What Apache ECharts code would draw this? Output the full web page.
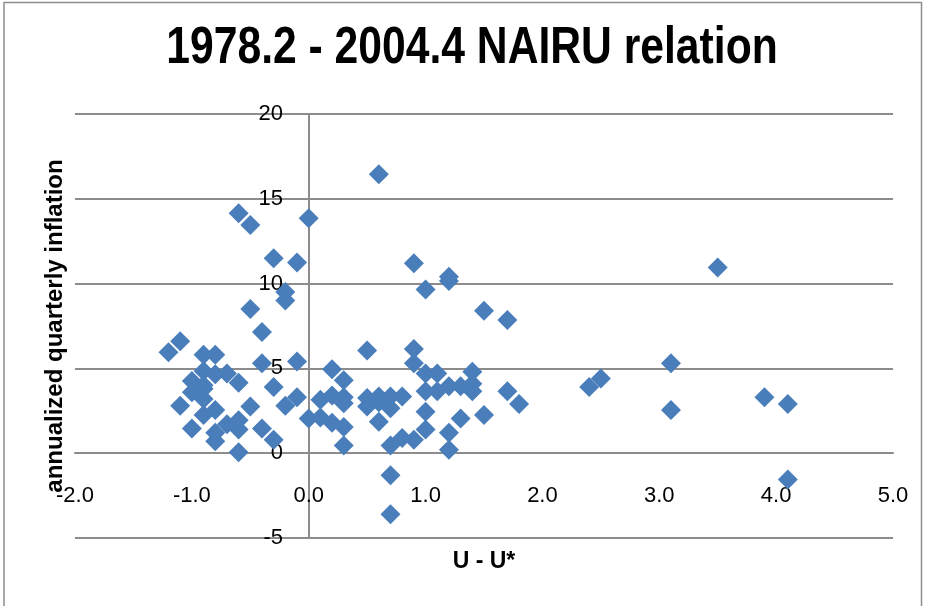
<!DOCTYPE html>
<html>
<head>
<meta charset="utf-8">
<script src="https://cdn.jsdelivr.net/npm/echarts@6/dist/echarts.min.js"></script>
<style>
html,body{margin:0;padding:0;background:#fff;}
#chart{width:927px;height:606px;}
</style>
</head>
<body>
<div id="chart"></div>
<script>
// Title and axis names
const chartTitle = "1978.2 - 2004.4 NAIRU relation";
const xName = "U - U*";
const yName = "annualized quarterly inflation";

// Axis ticks
const xTicks = [-2, -1, 0, 1, 2, 3, 4, 5];
const yTicks = [-5, 0, 5, 10, 15, 20];

// Unemployment gap (U - U*) for each quarter
const gap = [
  0.6, -0.6, -0.5, 0.0, -0.3, -0.1, -0.2, -0.2, -0.5, -0.4, 0.9, 1.2, 1.2, 1.0, 1.5, 1.7, 3.5, 3.1, 3.1, 3.9, 4.1, 4.1, 2.5, 2.4,
  -1.2, -1.1, -0.9, -0.8, -0.4, -0.1, -0.9, -0.8, -0.7, -0.6, -1.0, -0.9, -0.3, -0.1, -0.2, -1.0, -0.9, -1.1, -0.8, -0.9, -0.5, 0.0,
  -1.0, -0.8, -0.8, -0.7, -0.6, -0.6, -0.4, -0.3, -0.6, -0.9,
  0.5, 0.9, 0.9, 0.2, 0.3, 1.0, 1.1, 1.4, 1.2, 1.3, 1.4, 1.4, 1.0, 1.1, 1.7, 1.8, 1.5, 1.3, 1.2, 1.2, 1.0, 1.0, 0.9, 0.8,
  0.7, 0.7, 0.7, 0.6, 0.5, 0.5, 0.6, 0.7, 0.7, 0.8, 0.1, 0.2, 0.3, 0.3, 0.1, 0.2, 0.3, 0.3, 0.6
];

// Annualized quarterly inflation for each quarter
const inflation = [
  16.45, 14.15, 13.45, 13.85, 11.5, 11.25, 9.5, 9.0, 8.5, 7.15, 11.2, 10.4, 10.15, 9.65, 8.4, 7.85, 10.95, 5.3, 2.55, 3.3, 2.9, -1.55, 4.4, 3.9,
  5.95, 6.6, 5.8, 5.8, 5.3, 5.4, 4.85, 4.65, 4.7, 4.15, 4.25, 4.0, 3.9, 3.3, 2.8, 3.6, 3.2, 2.8, 2.55, 2.25, 2.75, 2.05,
  1.45, 1.2, 0.7, 1.7, 1.95, 1.4, 1.45, 0.8, 0.05, 3.8,
  6.05, 6.15, 5.3, 4.95, 4.3, 4.7, 4.7, 4.8, 3.95, 3.95, 4.1, 3.65, 3.65, 3.65, 3.65, 2.9, 2.25, 2.05, 1.2, 0.2, 2.45, 1.4, 0.8, 0.9,
  0.45, -1.3, -3.6, 1.85, 3.25, 2.75, 3.35, 3.35, 2.65, 3.35, 3.15, 3.4, 3.3, 2.95, 2.1, 1.8, 1.55, 0.45, 3.0
];

const points = gap.map((g, i) => [g, inflation[i]]);

const chart = echarts.init(document.getElementById('chart'), null, {renderer: 'canvas'});
const lineColor = '#8c8c8c';
const labelFont = "'Liberation Sans', Arial, sans-serif";

chart.setOption({
  animation: false,
  backgroundColor: '#ffffff',
  graphic: [
    {
      type: 'rect',
      shape: {x: 4, y: 2.5, width: 917.5, height: 610},
      style: {fill: 'none', stroke: '#8c8c8c', lineWidth: 1.5},
      silent: true
    },
    {
      type: 'text',
      x: 472, y: 49,
      scaleX: 0.82,
      style: {
        text: chartTitle,
        fill: '#000',
        font: "bold 52px 'Liberation Sans', Arial, sans-serif",
        textAlign: 'center',
        textVerticalAlign: 'middle'
      }
    }
  ],
  grid: {left: 75, right: 34, top: 114, bottom: 68, containLabel: false, outerBoundsMode: 'none'},
  xAxis: {
    type: 'value',
    min: xTicks[0],
    max: xTicks[xTicks.length - 1],
    interval: 1,
    offset: -85,
    name: xName,
    nameLocation: 'middle',
    nameGap: 97,
    nameTextStyle: {fontFamily: labelFont, fontWeight: 'bold', fontSize: 23, color: '#000'},
    axisLine: {show: true, onZero: false, lineStyle: {color: lineColor, width: 2}},
    axisTick: {show: false},
    axisLabel: {
      margin: 32,
      fontFamily: labelFont, fontSize: 22, color: '#000',
      formatter: v => v.toFixed(1)
    },
    splitLine: {show: false}
  },
  yAxis: {
    type: 'value',
    min: yTicks[0],
    max: yTicks[yTicks.length - 1],
    interval: 5,
    offset: -234,
    name: yName,
    nameLocation: 'middle',
    nameRotate: 90,
    nameGap: 242,
    nameTextStyle: {fontFamily: labelFont, fontWeight: 'bold', fontSize: 24, color: '#000'},
    axisLine: {show: true, onZero: false, lineStyle: {color: lineColor, width: 2}},
    axisTick: {show: false},
    axisLabel: {margin: 26, fontFamily: labelFont, fontSize: 22, color: '#000'},
    splitLine: {show: true, lineStyle: {color: lineColor, width: 2}}
  },
  series: [{
    type: 'scatter',
    data: points,
    symbol: 'diamond',
    symbolSize: 20,
    itemStyle: {color: '#4A7EBB', opacity: 1}
  }]
});
</script>
</body>
</html>
